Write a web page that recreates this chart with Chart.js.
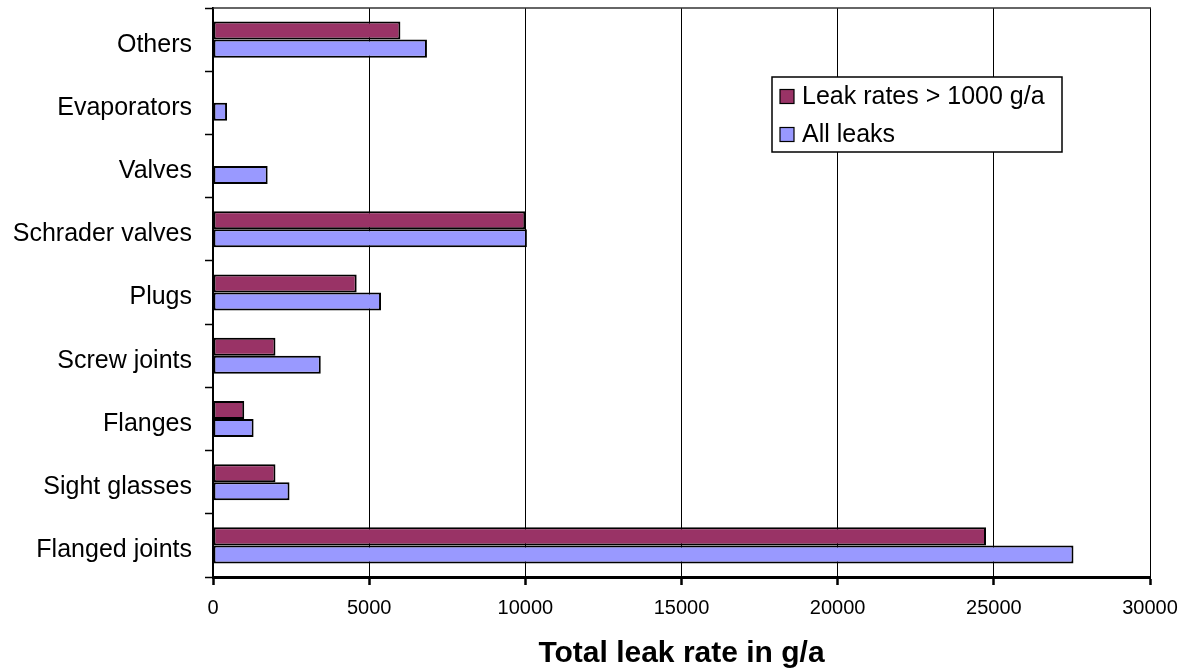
<!DOCTYPE html>
<html>
<head>
<meta charset="utf-8">
<script src="https://cdn.jsdelivr.net/npm/chart.js@4/dist/chart.umd.min.js"></script>
<style>
  html, body { margin: 0; padding: 0; background: #ffffff; }
  #wrap { width: 1183px; height: 672px; position: relative; }
</style>
</head>
<body>
<div id="wrap"><canvas id="chart" width="1183" height="672"></canvas></div>
<script>
// Leak sources, listed top to bottom
const categories = [
  'Others', 'Evaporators', 'Valves', 'Schrader valves', 'Plugs',
  'Screw joints', 'Flanges', 'Sight glasses', 'Flanged joints'
];
// Total leak rate (g/a) of leaks above 1000 g/a
const largeLeaks = [6000, 0, 0, 10000, 4600, 2000, 1000, 2000, 24750];
// Total leak rate (g/a) of all leaks
const allLeaks = [6850, 450, 1750, 10050, 5380, 3450, 1300, 2450, 27550];
// X axis range and tick step
const xTicks = { min: 0, max: 30000, step: 5000 };
const seriesNames = ['Leak rates > 1000 g/a', 'All leaks'];

const FONT = "'Liberation Sans', Arial, Helvetica, sans-serif";

// Boxed legend inside the plot, plus the top edge of the plot frame
const frameAndLegend = {
  id: 'frameAndLegend',
  afterDatasetsDraw(chart) {
    const { ctx, chartArea } = chart;
    ctx.save();
    ctx.strokeStyle = '#333333';
    ctx.lineWidth = 1.5;
    ctx.beginPath();
    ctx.moveTo(chartArea.left, chartArea.top);
    ctx.lineTo(chartArea.right + 1, chartArea.top);
    ctx.stroke();
    ctx.restore();
  },
  afterDraw(chart) {
    const { ctx } = chart;
    const box = { x: 772, y: 77, w: 290, h: 75 };
    ctx.save();
    ctx.fillStyle = '#ffffff';
    ctx.fillRect(box.x, box.y, box.w, box.h);
    ctx.strokeStyle = '#000000';
    ctx.lineWidth = 1.5;
    ctx.strokeRect(box.x, box.y, box.w, box.h);
    ctx.font = '25px ' + FONT;
    ctx.textBaseline = 'middle';
    ctx.textAlign = 'left';
    chart.data.datasets.forEach((ds, i) => {
      const cy = box.y + 19.5 + i * 38;
      ctx.fillStyle = ds.backgroundColor;
      ctx.fillRect(box.x + 8, cy - 7, 14, 14);
      ctx.strokeStyle = '#000000';
      ctx.lineWidth = 1.2;
      ctx.strokeRect(box.x + 8, cy - 7, 14, 14);
      ctx.fillStyle = '#000000';
      ctx.fillText(ds.label, box.x + 30, cy + 1);
    });
    ctx.restore();
  }
};

// Keep the plot area exactly where the layout padding puts it
function noEdgePadding(scale) {
  scale.paddingLeft = 0;
  scale.paddingRight = 0;
  scale.paddingTop = 0;
  scale.paddingBottom = 0;
}

new Chart(document.getElementById('chart'), {
  type: 'bar',
  data: {
    labels: categories,
    datasets: [
      {
        label: seriesNames[0],
        data: largeLeaks,
        backgroundColor: '#993366',
        borderColor: '#000000',
        borderWidth: 2,
        borderSkipped: false
      },
      {
        label: seriesNames[1],
        data: allLeaks,
        backgroundColor: '#9999FF',
        borderColor: '#000000',
        borderWidth: 2,
        borderSkipped: false
      }
    ]
  },
  options: {
    indexAxis: 'y',
    responsive: false,
    animation: false,
    categoryPercentage: 0.57,
    barPercentage: 1.0,
    layout: { padding: { left: 0, right: 33, top: 8, bottom: 0 } },
    plugins: {
      legend: { display: false },
      tooltip: { enabled: false }
    },
    scales: {
      x: {
        type: 'linear',
        position: 'bottom',
        min: xTicks.min,
        max: xTicks.max,
        afterFit(scale) { scale.height = 95; noEdgePadding(scale); },
        ticks: {
          stepSize: xTicks.step,
          color: '#000000',
          padding: 11,
          font: { family: FONT, size: 20 },
          callback: (value) => String(value)
        },
        grid: {
          color: '#000000',
          lineWidth: 1,
          drawTicks: true,
          tickLength: 8,
          tickWidth: 2.5,
          tickColor: '#000000'
        },
        border: { display: true, color: '#000000', width: 3 },
        title: {
          display: true,
          text: 'Total leak rate in g/a',
          color: '#000000',
          font: { family: FONT, size: 30, weight: 'bold' },
          padding: { top: 0, bottom: 0 }
        }
      },
      y: {
        type: 'category',
        position: 'left',
        afterFit(scale) { scale.width = 213; noEdgePadding(scale); },
        ticks: {
          color: '#000000',
          padding: 13,
          font: { family: FONT, size: 25, lineHeight: '10px' },
          callback: (value, index) => ['', categories[index]]
        },
        grid: {
          offset: true,
          drawOnChartArea: false,
          drawTicks: true,
          tickLength: 8,
          tickWidth: 1.5,
          tickColor: '#000000',
          color: '#000000'
        },
        border: { display: true, color: '#000000', width: 2 }
      }
    }
  },
  plugins: [frameAndLegend]
});
</script>
</body>
</html>
